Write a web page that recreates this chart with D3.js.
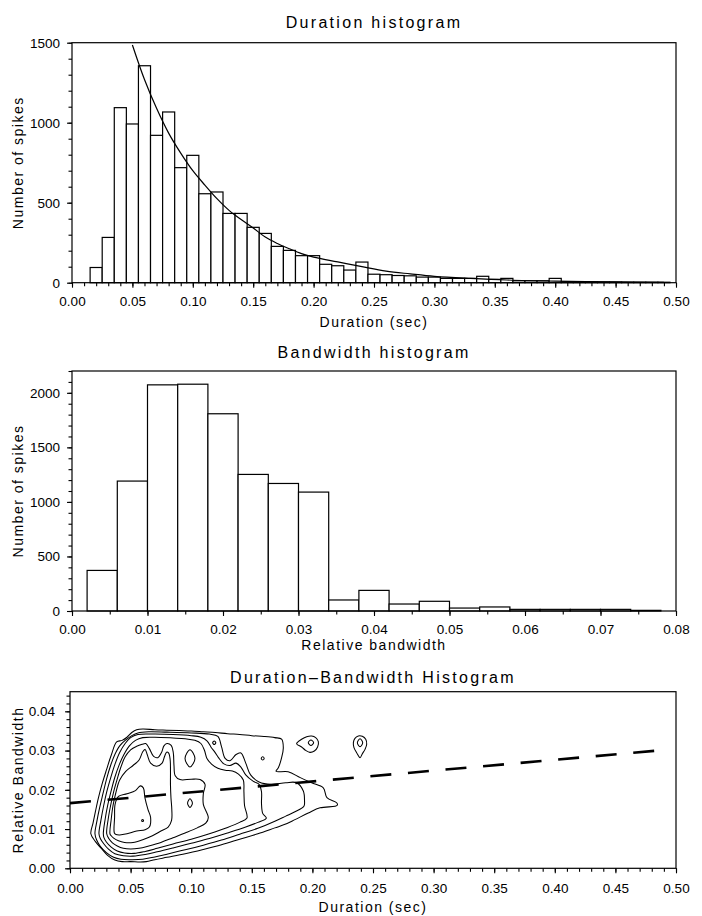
<!DOCTYPE html>
<html><head><meta charset="utf-8">
<script src="https://cdn.jsdelivr.net/npm/d3@7"></script>
<style>
body{margin:0;background:#fff;}
svg text{font-family:"Liberation Sans",Arial,sans-serif;fill:#000;}
</style></head><body>
<svg id="c" width="702" height="916"></svg>
<script>
// ---------------- DATA ----------------
const durCenters = [0.01,0.02,0.03,0.04,0.05,0.06,0.07,0.08,0.09,0.10,0.11,0.12,0.13,0.14,0.15,0.16,0.17,0.18,0.19,0.20,0.21,0.22,0.23,0.24,0.25,0.26,0.27,0.28,0.29,0.30,0.31,0.32,0.33,0.34,0.35,0.36,0.37,0.38,0.39,0.40,0.41,0.42,0.43,0.44,0.45,0.46,0.47,0.48,0.49];
const durCounts = [0,95,283,1094,992,1356,921,1067,719,796,556,567,433,433,346,308,227,202,169,169,115,106,79,129,53,50,45,43,35,35,27,27,27,40,21,27,12,12,12,27,6,5,5,4,4,3,3,3,3];
const durBinWidth = 0.01;
const fitCurveX = [0.05,0.06,0.07,0.08,0.09,0.10,0.11,0.12,0.13,0.14,0.15,0.16,0.17,0.18,0.19,0.20,0.22,0.24,0.26,0.28,0.30,0.33,0.36,0.40,0.45,0.49];
const fitCurveY = [1486,1270,1090,935,810,700,610,525,452,395,342,285,245,212,182,160,130,100,72,55,40,27,17,10,5,2];

const bwBinStarts = [0.002,0.006,0.010,0.014,0.018,0.022,0.026,0.030,0.034,0.038,0.042,0.046,0.050,0.054,0.058,0.062,0.066,0.070,0.074];
const bwCounts = [372,1191,2073,2079,1808,1252,1169,1090,101,189,64,89,27,37,15,15,15,15,6];
const bwBinWidth = 0.004;

const durTicks = [0,0.05,0.10,0.15,0.20,0.25,0.30,0.35,0.40,0.45,0.50];
const countTicksTop = [0,500,1000,1500];
const bwTicks = [0,0.01,0.02,0.03,0.04,0.05,0.06,0.07,0.08];
const countTicksMid = [0,500,1000,1500,2000];
const relBwTicks = [0,0.01,0.02,0.03,0.04];

// contour lines of the duration-bandwidth histogram, [duration, bandwidth]
const contour1 = [[0.0172,0.0088],[0.019,0.0115],[0.021,0.0145],[0.0235,0.018],[0.0265,0.0215],[0.030,0.025],[0.034,0.0288],[0.0385,0.0322],[0.043,0.0326],[0.047,0.0334],[0.051,0.0346],[0.055,0.0353],[0.06,0.0355],[0.07,0.0353],[0.08,0.0352],[0.09,0.0351],[0.10,0.0350],[0.11,0.0348],[0.12,0.0346],[0.13,0.0343],[0.14,0.0341],[0.15,0.0338],[0.16,0.0336],[0.169,0.0333],[0.1746,0.0329],[0.176,0.0307],[0.1746,0.0282],[0.1719,0.0256],[0.170,0.0247],[0.180,0.0246],[0.190,0.0231],[0.1994,0.0218],[0.209,0.0205],[0.212,0.0180],[0.220,0.0167],[0.2206,0.0161],[0.2186,0.0158],[0.2063,0.0154],[0.1966,0.0141],[0.1856,0.0124],[0.1774,0.0112],[0.169,0.0103],[0.155,0.0088],[0.14,0.0074],[0.125,0.0060],[0.11,0.0048],[0.095,0.0037],[0.08,0.0028],[0.07,0.0022],[0.063,0.0017],[0.058,0.0016],[0.05,0.0017],[0.043,0.0017],[0.037,0.0021],[0.031,0.0033],[0.026,0.0050],[0.021,0.0068]];
const contour2 = [[0.0206,0.0088],[0.0222,0.0120],[0.0245,0.0155],[0.0272,0.019],[0.0302,0.0228],[0.0335,0.0262],[0.037,0.029],[0.041,0.0312],[0.046,0.0327],[0.051,0.0338],[0.056,0.0345],[0.065,0.0348],[0.08,0.0347],[0.10,0.0345],[0.115,0.0342],[0.122,0.0336],[0.125,0.031],[0.128,0.028],[0.132,0.0274],[0.137,0.029],[0.141,0.0294],[0.145,0.0268],[0.149,0.0238],[0.156,0.0220],[0.166,0.0214],[0.178,0.0218],[0.187,0.0218],[0.1925,0.0197],[0.1935,0.0172],[0.1930,0.0158],[0.1856,0.0144],[0.178,0.0133],[0.169,0.0120],[0.155,0.0102],[0.14,0.0087],[0.125,0.0072],[0.11,0.0059],[0.095,0.0047],[0.08,0.0036],[0.07,0.0029],[0.06,0.0023],[0.05,0.0022],[0.042,0.0023],[0.036,0.0028],[0.030,0.0040],[0.025,0.0056],[0.022,0.0072]];
const contour3 = [[0.0239,0.0088],[0.0255,0.0122],[0.0278,0.016],[0.0305,0.0197],[0.0338,0.0233],[0.0372,0.0266],[0.041,0.0295],[0.0455,0.0318],[0.050,0.0333],[0.056,0.0341],[0.07,0.0342],[0.085,0.0341],[0.10,0.0338],[0.108,0.0334],[0.113,0.0325],[0.1165,0.0308],[0.1195,0.0296],[0.1225,0.0282],[0.127,0.0266],[0.132,0.0262],[0.137,0.0268],[0.141,0.0258],[0.145,0.0238],[0.151,0.0222],[0.156,0.0214],[0.158,0.0195],[0.158,0.0165],[0.159,0.0140],[0.162,0.0128],[0.155,0.0117],[0.145,0.0105],[0.13,0.0090],[0.115,0.0076],[0.10,0.0064],[0.085,0.0052],[0.072,0.0042],[0.062,0.0035],[0.052,0.0031],[0.044,0.0032],[0.037,0.0037],[0.032,0.0048],[0.028,0.0062],[0.025,0.0076]];
const contour4 = [[0.0275,0.0088],[0.029,0.0125],[0.0312,0.0162],[0.034,0.0198],[0.037,0.0232],[0.0405,0.0263],[0.0445,0.029],[0.049,0.0312],[0.054,0.0326],[0.06,0.0333],[0.07,0.0334],[0.085,0.0332],[0.095,0.0330],[0.103,0.0326],[0.108,0.0318],[0.111,0.0300],[0.113,0.0280],[0.117,0.0265],[0.122,0.0255],[0.128,0.0250],[0.134,0.0248],[0.139,0.0240],[0.143,0.0225],[0.1435,0.0195],[0.144,0.0160],[0.146,0.0128],[0.140,0.0117],[0.13,0.0104],[0.115,0.0088],[0.10,0.0074],[0.085,0.0062],[0.072,0.0051],[0.062,0.0043],[0.053,0.0038],[0.045,0.0039],[0.039,0.0044],[0.034,0.0054],[0.030,0.0067],[0.028,0.0078]];
const contour5 = [[0.0303,0.0088],[0.0315,0.0125],[0.0335,0.016],[0.036,0.0195],[0.039,0.0228],[0.042,0.0258],[0.0455,0.0284],[0.050,0.0302],[0.055,0.0311],[0.0595,0.0316],[0.0625,0.0318],[0.0655,0.0305],[0.0690,0.0285],[0.0725,0.0282],[0.0755,0.0295],[0.0775,0.0312],[0.080,0.0318],[0.0835,0.0313],[0.0852,0.0295],[0.0858,0.0262],[0.0868,0.0236],[0.0908,0.0226],[0.100,0.0227],[0.1073,0.0226],[0.1114,0.0214],[0.110,0.0190],[0.110,0.0163],[0.1141,0.0129],[0.112,0.0115],[0.105,0.0103],[0.095,0.0090],[0.085,0.0078],[0.075,0.0066],[0.065,0.0057],[0.057,0.0051],[0.050,0.0049],[0.044,0.0051],[0.039,0.0057],[0.035,0.0065],[0.032,0.0076]];
const contour6 = [[0.033,0.0088],[0.034,0.0125],[0.0355,0.016],[0.038,0.0195],[0.041,0.0225],[0.046,0.0247],[0.052,0.0262],[0.057,0.0276],[0.0600,0.0297],[0.0620,0.0303],[0.0637,0.0290],[0.0665,0.0268],[0.0715,0.0260],[0.0760,0.0268],[0.0780,0.0285],[0.0797,0.0296],[0.0813,0.0294],[0.0826,0.0278],[0.0829,0.0250],[0.0829,0.0212],[0.0833,0.0180],[0.0840,0.0150],[0.0838,0.0122],[0.0810,0.0105],[0.0750,0.0095],[0.0680,0.0083],[0.0600,0.0073],[0.0520,0.0066],[0.0450,0.0066],[0.0400,0.0070],[0.0360,0.0077],[0.0340,0.0083]];
const contour7 = [[0.0366,0.0090],[0.0368,0.0130],[0.0372,0.0163],[0.040,0.0183],[0.047,0.0190],[0.054,0.0198],[0.058,0.0210],[0.0605,0.0205],[0.0618,0.0180],[0.0643,0.0150],[0.0665,0.0130],[0.0655,0.0105],[0.062,0.0098],[0.055,0.0095],[0.047,0.0088],[0.041,0.0085],[0.038,0.0086]];
const peakDot1 = [[0.0591,0.0122],[0.0599,0.01245],[0.0607,0.0122],[0.0599,0.01195]];
const peakZero = [[0.097,0.0166],[0.099,0.0177],[0.101,0.0166],[0.099,0.0155]];
const peakEllipse = [[0.0949,0.0280],[0.099,0.0302],[0.1031,0.0280],[0.099,0.0258]];
const peakDot2 = [[0.1177,0.0320],[0.119,0.03245],[0.1203,0.0320],[0.119,0.03155]];
const peakDot3 = [[0.1578,0.0280],[0.159,0.0284],[0.1602,0.0280],[0.159,0.0276]];
const teardrop1 = [[0.1870,0.03176],[0.1911,0.03287],[0.1953,0.03355],[0.1994,0.03372],[0.2027,0.03329],[0.2049,0.03227],[0.2043,0.03091],[0.2016,0.02989],[0.1980,0.02954],[0.1944,0.03006],[0.1911,0.03091]];
const teardrop1Inner = [[0.1966,0.0320],[0.1988,0.0327],[0.2010,0.0320],[0.1988,0.0313]];
const teardrop2 = [[0.2393,0.02818],[0.2365,0.02946],[0.2343,0.03074],[0.2338,0.03201],[0.2351,0.03312],[0.2379,0.03372],[0.2412,0.03363],[0.2440,0.03287],[0.2448,0.03159],[0.2434,0.03031],[0.2412,0.02920]];
const teardrop2Inner = [[0.2371,0.0320],[0.2393,0.0330],[0.2415,0.0320],[0.2393,0.0310]];
const contourLoops = [contour1,contour2,contour3,contour4,contour5,contour6,contour7,peakDot1,peakZero,peakEllipse,peakDot2,peakDot3,teardrop1,teardrop1Inner,teardrop2,teardrop2Inner];
const regressionX = [0, 0.485];
const regressionY = [0.0166, 0.0300];

// ---------------- DRAWING ----------------
const svg = d3.select('#c');
const TXT = '"Liberation Sans", Arial, sans-serif';

function drawFrame(g, x, y, opt) {
  const [x0, x1] = x.range(), [y0, y1] = y.range();
  g.append('g').attr('transform', `translate(0,${y0})`)
    .call(d3.axisBottom(x).tickValues(opt.xMinor).tickSize(3.5).tickFormat(''))
    .call(s => s.select('.domain').remove());
  g.append('g').attr('transform', `translate(${x0},0)`)
    .call(d3.axisLeft(y).tickValues(opt.yMinor).tickSize(3.5).tickFormat(''))
    .call(s => s.select('.domain').remove());
  const xa = g.append('g').attr('transform', `translate(0,${y0})`)
    .call(d3.axisBottom(x).tickValues(opt.xTicks).tickSize(5).tickPadding(opt.xPad).tickFormat(opt.xFmt));
  xa.select('.domain').remove();
  const ya = g.append('g').attr('transform', `translate(${x0},0)`)
    .call(d3.axisLeft(y).tickValues(opt.yTicks).tickSize(5).tickPadding(opt.yPad).tickFormat(opt.yFmt));
  ya.select('.domain').remove();
  [xa, ya].forEach(a => a.attr('font-family', TXT).attr('font-size', 13.5));
  g.selectAll('.tick line').attr('stroke', '#000').attr('stroke-width', 1.1);
  g.append('rect').attr('x', x0).attr('y', y1).attr('width', x1 - x0).attr('height', y0 - y1)
    .attr('fill', 'none').attr('stroke', '#000').attr('stroke-width', 1.2);
  g.append('text').attr('x', (x0 + x1) / 2).attr('y', opt.titleY).attr('text-anchor', 'middle')
    .attr('font-size', 16).attr('letter-spacing', 2.3).text(opt.title);
  g.append('text').attr('x', (x0 + x1) / 2).attr('y', opt.xLabelY).attr('text-anchor', 'middle')
    .attr('font-size', 14).attr('letter-spacing', 1.5).text(opt.xLabel);
  g.append('text').attr('transform', `translate(${opt.yLabelX},${(y0 + y1) / 2}) rotate(-90)`)
    .attr('text-anchor', 'middle').attr('font-size', 14).attr('letter-spacing', 1.5).text(opt.yLabel);
}

// ---- Panel 1: duration histogram
{
  const g = svg.append('g');
  const x = d3.scaleLinear().domain([0, 0.5]).range([72, 676]);
  const y = d3.scaleLinear().domain([0, 1500]).range([282.7, 42.7]);
  g.append('g').selectAll('rect').data(durCenters).join('rect')
    .attr('x', d => x(d - durBinWidth / 2))
    .attr('width', d => x(d + durBinWidth / 2) - x(d - durBinWidth / 2))
    .attr('y', (d, i) => y(durCounts[i]))
    .attr('height', (d, i) => y(0) - y(durCounts[i]))
    .attr('fill', '#fff').attr('stroke', '#000').attr('stroke-width', 1.2);
  g.append('path').datum(fitCurveX.map((v, i) => [v, fitCurveY[i]]))
    .attr('d', d3.line().x(d => x(d[0])).y(d => y(d[1])).curve(d3.curveCatmullRom))
    .attr('fill', 'none').attr('stroke', '#000').attr('stroke-width', 1.2);
  drawFrame(g, x, y, {
    xTicks: durTicks, xMinor: d3.range(0, 0.5001, 0.01), xFmt: d3.format('.2f'), xPad: 9,
    yTicks: countTicksTop, yMinor: d3.range(0, 1501, 100), yFmt: d3.format('d'), yPad: 7,
    title: 'Duration histogram', titleY: 28, xLabel: 'Duration (sec)', xLabelY: 327,
    yLabel: 'Number of spikes', yLabelX: 23
  });
}

// ---- Panel 2: bandwidth histogram
{
  const g = svg.append('g');
  const x = d3.scaleLinear().domain([0, 0.08]).range([72, 676]);
  const y = d3.scaleLinear().domain([0, 2200]).range([611, 371]);
  g.append('g').selectAll('rect').data(bwBinStarts).join('rect')
    .attr('x', d => x(d))
    .attr('width', d => x(d + bwBinWidth) - x(d))
    .attr('y', (d, i) => y(bwCounts[i]))
    .attr('height', (d, i) => y(0) - y(bwCounts[i]))
    .attr('fill', '#fff').attr('stroke', '#000').attr('stroke-width', 1.2);
  drawFrame(g, x, y, {
    xTicks: bwTicks, xMinor: d3.range(0, 0.08001, 0.005), xFmt: d3.format('.2f'), xPad: 8.5,
    yTicks: countTicksMid, yMinor: d3.range(0, 2201, 100), yFmt: d3.format('d'), yPad: 7,
    title: 'Bandwidth histogram', titleY: 358, xLabel: 'Relative bandwidth', xLabelY: 650,
    yLabel: 'Number of spikes', yLabelX: 23
  });
}

// ---- Panel 3: duration-bandwidth contour histogram
{
  const g = svg.append('g');
  const x = d3.scaleLinear().domain([0, 0.5]).range([70, 676]);
  const y = d3.scaleLinear().domain([0, 0.045]).range([868.3, 691.7]);
  const line = d3.line().x(d => x(d[0])).y(d => y(d[1])).curve(d3.curveCatmullRomClosed.alpha(0.5));
  g.append('g').selectAll('path').data(contourLoops).join('path')
    .attr('d', line).attr('fill', 'none').attr('stroke', '#000').attr('stroke-width', 1.05);
  g.append('path').datum(regressionX.map((v, i) => [v, regressionY[i]]))
    .attr('d', d3.line().x(d => x(d[0])).y(d => y(d[1])))
    .attr('fill', 'none').attr('stroke', '#000').attr('stroke-width', 2.6)
    .attr('stroke-dasharray', '21 16.7');
  drawFrame(g, x, y, {
    xTicks: durTicks, xMinor: d3.range(0, 0.5001, 0.01), xFmt: d3.format('.2f'), xPad: 10.5,
    yTicks: relBwTicks, yMinor: d3.range(0, 0.0451, 0.002), yFmt: d3.format('.2f'), yPad: 10,
    title: 'Duration–Bandwidth Histogram', titleY: 683, xLabel: 'Duration (sec)', xLabelY: 912,
    yLabel: 'Relative Bandwidth', yLabelX: 23
  });
}
</script>
</body></html>
